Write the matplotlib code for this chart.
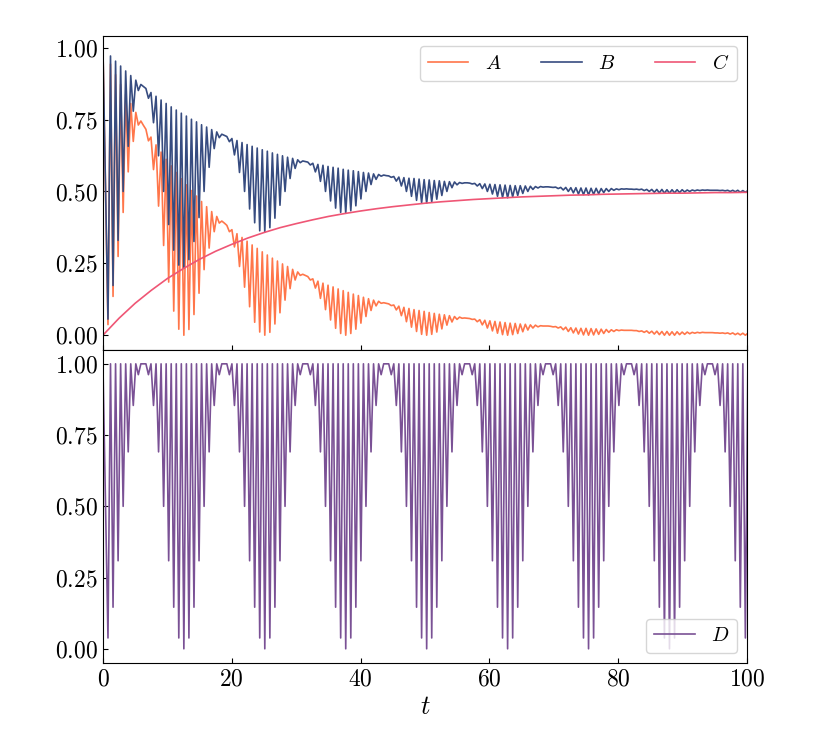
import matplotlib
matplotlib.use("Agg")
import matplotlib.pyplot as plt
import numpy as np

plt.rcParams["font.family"] = "serif"
plt.rcParams["font.serif"] = ["cmr10"]
plt.rcParams["mathtext.fontset"] = "cm"
plt.rcParams["axes.formatter.use_mathtext"] = True

# spacing between a dip and the next maximum (dips are ~0.785 apart)
half_period = 0.3927

# maxima (t=0 and between dips) and minima of each curve
a_peaks = [1.000,
           0.943, 0.906, 0.872, 0.838, 0.806, 0.775, 0.745, 0.716, 0.689, 0.662, 0.637, 0.612, 0.589, 0.566, 0.544,
           0.523, 0.503, 0.484, 0.465, 0.447, 0.430, 0.413, 0.397, 0.382, 0.367, 0.353, 0.340, 0.327, 0.314, 0.302, 0.290,
           0.279, 0.268, 0.258, 0.248, 0.239, 0.229, 0.220, 0.212, 0.204, 0.196, 0.188, 0.181, 0.174, 0.168, 0.161, 0.155,
           0.149, 0.143, 0.138, 0.132, 0.127, 0.122, 0.118, 0.113, 0.109, 0.105, 0.101, 0.097, 0.093, 0.089, 0.086, 0.083,
           0.079, 0.076, 0.073, 0.071, 0.068, 0.065, 0.063, 0.060, 0.058, 0.056, 0.054, 0.052, 0.050, 0.048, 0.046, 0.044,
           0.042, 0.041, 0.039, 0.038, 0.036, 0.035, 0.033, 0.032, 0.031, 0.030, 0.029, 0.028, 0.026, 0.025, 0.024, 0.024,
           0.023, 0.022, 0.021, 0.020, 0.019, 0.019, 0.018, 0.017, 0.017, 0.016, 0.015, 0.015, 0.014, 0.014, 0.013, 0.013,
           0.012, 0.012, 0.011, 0.011, 0.010, 0.010, 0.010, 0.009, 0.009, 0.008, 0.008, 0.008, 0.008, 0.007, 0.007, 0.007]
a_dips = [0.037, 0.135, 0.274, 0.427, 0.568, 0.674, 0.731, 0.730, 0.676, 0.576, 0.449, 0.312, 0.185, 0.084, 0.021,
          0.000, 0.020, 0.072, 0.146, 0.228, 0.303, 0.360, 0.390, 0.390, 0.360, 0.307, 0.239, 0.167, 0.099, 0.045, 0.011,
          0.000, 0.010, 0.039, 0.078, 0.122, 0.162, 0.192, 0.208, 0.208, 0.192, 0.164, 0.128, 0.089, 0.053, 0.024, 0.006,
          0.000, 0.006, 0.021, 0.042, 0.065, 0.086, 0.102, 0.111, 0.111, 0.103, 0.088, 0.068, 0.047, 0.028, 0.013, 0.003,
          0.000, 0.003, 0.011, 0.022, 0.035, 0.046, 0.055, 0.059, 0.059, 0.055, 0.047, 0.036, 0.025, 0.015, 0.007, 0.002,
          0.000, 0.002, 0.006, 0.012, 0.018, 0.025, 0.029, 0.032, 0.032, 0.029, 0.025, 0.019, 0.013, 0.008, 0.004, 0.001,
          0.000, 0.001, 0.003, 0.006, 0.010, 0.013, 0.016, 0.017, 0.017, 0.016, 0.013, 0.010, 0.007, 0.004, 0.002, 0.000,
          0.000, 0.000, 0.002, 0.003, 0.005, 0.007, 0.008, 0.009, 0.009, 0.008, 0.007, 0.006, 0.004, 0.002, 0.001, 0.000]

b_peaks = [1.000,
           0.971, 0.953, 0.936, 0.919, 0.903, 0.887, 0.872, 0.858, 0.844, 0.831, 0.818, 0.806, 0.794, 0.783, 0.772,
           0.762, 0.751, 0.742, 0.732, 0.724, 0.715, 0.707, 0.699, 0.691, 0.684, 0.677, 0.670, 0.663, 0.657, 0.651, 0.645,
           0.640, 0.634, 0.629, 0.624, 0.619, 0.615, 0.610, 0.606, 0.602, 0.598, 0.594, 0.591, 0.587, 0.584, 0.581, 0.577,
           0.574, 0.572, 0.569, 0.566, 0.564, 0.561, 0.559, 0.557, 0.554, 0.552, 0.550, 0.548, 0.546, 0.545, 0.543, 0.541,
           0.540, 0.538, 0.537, 0.535, 0.534, 0.533, 0.531, 0.530, 0.529, 0.528, 0.527, 0.526, 0.525, 0.524, 0.523, 0.522,
           0.521, 0.520, 0.520, 0.519, 0.518, 0.517, 0.517, 0.516, 0.515, 0.515, 0.514, 0.514, 0.513, 0.513, 0.512, 0.512,
           0.511, 0.511, 0.510, 0.510, 0.510, 0.509, 0.509, 0.509, 0.508, 0.508, 0.508, 0.507, 0.507, 0.507, 0.507, 0.506,
           0.506, 0.506, 0.506, 0.505, 0.505, 0.505, 0.505, 0.505, 0.504, 0.504, 0.504, 0.504, 0.504, 0.504, 0.503, 0.503]
b_dips = [0.056, 0.173, 0.330, 0.500, 0.657, 0.779, 0.851, 0.865, 0.824, 0.739, 0.624, 0.500, 0.385, 0.296, 0.244,
          0.233, 0.263, 0.326, 0.409, 0.500, 0.584, 0.649, 0.687, 0.695, 0.673, 0.627, 0.566, 0.500, 0.439, 0.391, 0.363,
          0.358, 0.374, 0.407, 0.452, 0.500, 0.545, 0.580, 0.600, 0.604, 0.592, 0.568, 0.535, 0.500, 0.467, 0.442, 0.427,
          0.424, 0.433, 0.450, 0.474, 0.500, 0.524, 0.542, 0.553, 0.555, 0.549, 0.536, 0.519, 0.500, 0.483, 0.469, 0.461,
          0.459, 0.464, 0.473, 0.486, 0.500, 0.513, 0.523, 0.528, 0.530, 0.526, 0.519, 0.510, 0.500, 0.491, 0.483, 0.479,
          0.478, 0.481, 0.486, 0.493, 0.500, 0.507, 0.512, 0.515, 0.516, 0.514, 0.510, 0.505, 0.500, 0.495, 0.491, 0.489,
          0.488, 0.490, 0.492, 0.496, 0.500, 0.504, 0.506, 0.508, 0.508, 0.507, 0.506, 0.503, 0.500, 0.497, 0.495, 0.494,
          0.494, 0.495, 0.496, 0.498, 0.500, 0.502, 0.503, 0.504, 0.504, 0.504, 0.503, 0.502, 0.500, 0.499, 0.497, 0.497]

d_peak = 1.0
d_dips = [0.038, 0.146, 0.309, 0.500, 0.691, 0.854, 0.962, 1.000, 0.962, 0.854, 0.691, 0.500, 0.309, 0.146, 0.038,
          0.000, 0.038, 0.146, 0.309, 0.500, 0.691, 0.854, 0.962, 1.000, 0.962, 0.854, 0.691, 0.500, 0.309, 0.146, 0.038,
          0.000, 0.038, 0.146, 0.309, 0.500, 0.691, 0.854, 0.962, 1.000, 0.962, 0.854, 0.691, 0.500, 0.309, 0.146, 0.038,
          0.000, 0.038, 0.146, 0.309, 0.500, 0.691, 0.854, 0.962, 1.000, 0.962, 0.854, 0.691, 0.500, 0.309, 0.146, 0.038,
          0.000, 0.038, 0.146, 0.309, 0.500, 0.691, 0.854, 0.962, 1.000, 0.962, 0.854, 0.691, 0.500, 0.309, 0.146, 0.038,
          0.000, 0.038, 0.146, 0.309, 0.500, 0.691, 0.854, 0.962, 1.000, 0.962, 0.854, 0.691, 0.500, 0.309, 0.146, 0.038,
          0.000, 0.038, 0.146, 0.309, 0.500, 0.691, 0.854, 0.962, 1.000, 0.962, 0.854, 0.691, 0.500, 0.309, 0.146, 0.038,
          0.000, 0.038, 0.146, 0.309, 0.500, 0.691, 0.854, 0.962, 1.000, 0.962, 0.854, 0.691, 0.500, 0.309, 0.146, 0.038]

# C is smooth, read every 2.5 time units
c_step = 2.5
c_vals = [0.000, 0.059, 0.111, 0.156, 0.197, 0.232, 0.264, 0.292, 0.316, 0.338, 0.357, 0.374, 0.388, 0.401,
          0.413, 0.423, 0.432, 0.440, 0.447, 0.453, 0.459, 0.464, 0.468, 0.472, 0.475, 0.478, 0.481, 0.483,
          0.485, 0.487, 0.488, 0.490, 0.491, 0.492, 0.493, 0.494, 0.494, 0.495, 0.496, 0.496, 0.497]

colors = {"A": "#ff764a", "B": "#374c80", "C": "#ef5675", "D": "#7a5195"}


def interleave(peaks, dips):
    out = np.empty(len(peaks) + len(dips))
    out[0::2] = peaks
    out[1::2] = dips
    return out


n_pts = len(a_peaks) + len(a_dips)
t = np.concatenate([[0.0], np.arange(2, n_pts + 1) * half_period])
A = interleave(a_peaks, a_dips)
B = interleave(b_peaks, b_dips)
D = interleave(np.full(len(a_peaks), d_peak), d_dips)
t_c = np.arange(len(c_vals)) * c_step

fig, (ax1, ax2) = plt.subplots(2, 1, sharex=True, figsize=(8.3, 7.38), dpi=100)
fig.subplots_adjust(left=0.124, right=0.9, top=0.951, bottom=0.1016, hspace=0)

ax1.plot(t, A, color=colors["A"], lw=1.2, label="$A$")
ax1.plot(t, B, color=colors["B"], lw=1.2, label="$B$")
ax1.plot(t_c, c_vals, color=colors["C"], lw=1.2, label="$C$")
ax1.set_ylim(-0.05, 1.04)
ax1.set_yticks([0, 0.25, 0.5, 0.75, 1.0])
ax1.legend(loc="upper right", ncol=3, fontsize=14.5)

ax2.plot(t, D, color=colors["D"], lw=1.2, label="$D$")
ax2.set_ylim(-0.05, 1.05)
ax2.set_yticks([0, 0.25, 0.5, 0.75, 1.0])
ax2.legend(loc="lower right", fontsize=14.5)
ax2.set_xlim(0, 100)
ax2.set_xticks([0, 20, 40, 60, 80, 100])
ax2.set_xlabel("$t$", fontsize=19)

for ax in (ax1, ax2):
    ax.tick_params(direction="in", labelsize=17)

fig.savefig("out.png")
